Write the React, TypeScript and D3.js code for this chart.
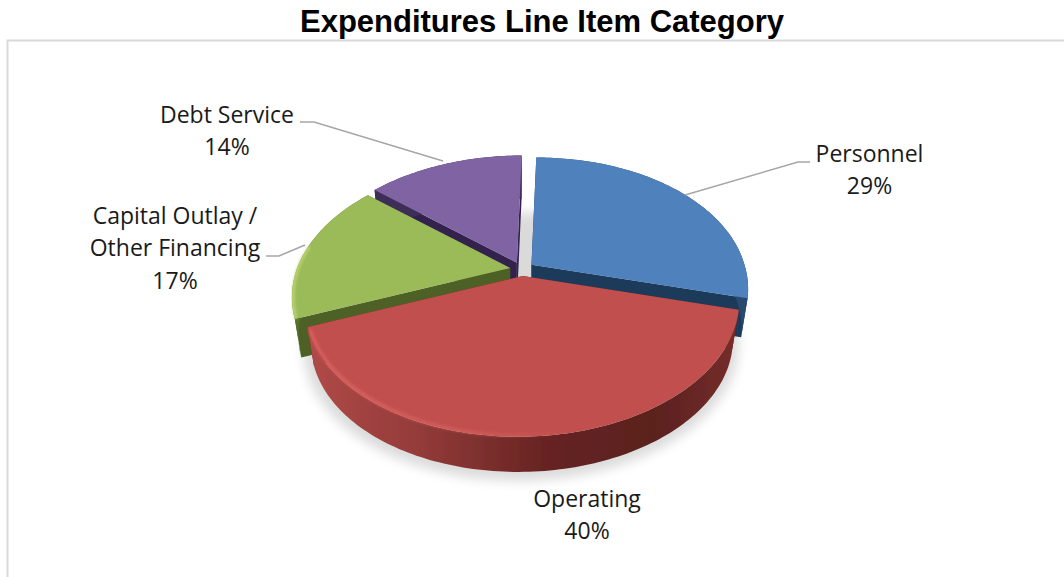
import React from "react";
import * as d3 from "d3";

const categories = ["Personnel", "Operating", "Capital Outlay / Other Financing", "Debt Service"];
const shares = [29, 40, 17, 14];
const topColors = ["#4f81bd", "#c0504d", "#9bbb59", "#8064a2"];
const cutColors = ["#1c3a5a", "#5e2220", "#4e6128", "#33244d"];
const wallColors = ["#2a4a70", "url(#redWall)", "#56702a", "#3c2d58"];
const labelLines = [["Personnel", "29%"], ["Operating", "40%"], ["Capital Outlay /", "Other Financing", "17%"], ["Debt Service", "14%"]];
const labelAnchors = [[869.5, 162], [587, 507], [175, 224], [227, 123]];
const leaders = [
  [[685, 195], [798, 162], [810, 162]],
  [],
  [[305, 245], [279, 256], [266, 256]],
  [[443, 161], [314, 122], [300, 122]],
];
const paintOrder = [3, 0, 2, 1];

// Tilted-disc projection of the pie, with perspective and a lean that differs by half.
const cx = 522, cy = 269, rx = 213, ry = 128.6, persp = 0.2, leanFar = 0.045, leanNear = 0.03;
const burstX = 12, burstY = 7, depth = 40, taper = 0.97;

type P = [number, number];
function onDisc(u: number, v: number): P {
  const s = 1 / (1 + persp * v);
  const y = -ry * v * s;
  return [rx * u * s - y * (y < 0 ? leanFar : leanNear), y];
}
function topPoint(a: number, r: number, mid: number): P {
  const [ox, oy] = [burstX * Math.sin(mid), -burstY * Math.cos(mid)];
  const [x, y] = onDisc(r * Math.sin(a), r * Math.cos(a));
  return [cx + ox + x, cy + oy + y];
}
function lowPoint(a: number, r: number, mid: number): P {
  const [ox, oy] = [burstX * Math.sin(mid), -burstY * Math.cos(mid)];
  const [x, y] = onDisc(r * Math.sin(a), r * Math.cos(a));
  return [cx + ox + x * taper, cy + oy + y * taper + depth];
}
const path = d3.line().curve(d3.curveLinear);

function angleSteps(a0: number, a1: number): number[] {
  const n = Math.max(2, Math.ceil((a1 - a0) / 0.02));
  return d3.range(n + 1).map((i) => a0 + ((a1 - a0) * i) / n);
}

export default function App() {
  const arcs = d3.pie<number>().sort(null)(shares);
  const shadowRing = angleSteps(0, Math.PI * 2).map((a) => lowPoint(a, 1.03, Math.PI) as P);
  const redArc = arcs[1];
  const redMid = (redArc.startAngle + redArc.endAngle) / 2;
  const greenArc = arcs[2];
  const greenMid = (greenArc.startAngle + greenArc.endAngle) / 2;

  return (
    <svg
      width={1064}
      height={577}
      style={{ position: "fixed", left: 0, top: 0, background: "#fff" }}
      fontFamily="'Open Sans', sans-serif"
    >
      <defs>
        <linearGradient id="redWall" gradientUnits="userSpaceOnUse" x1={305} x2={740} y1={0} y2={0}>
          <stop offset="0" stopColor="#b04a48" />
          <stop offset="0.25" stopColor="#953c3a" />
          <stop offset="0.55" stopColor="#672422" />
          <stop offset="0.8" stopColor="#5a201e" />
          <stop offset="1" stopColor="#772e2c" />
        </linearGradient>
        <linearGradient id="redGlint" gradientUnits="userSpaceOnUse" x1={310} x2={570} y1={0} y2={0}>
          <stop offset="0" stopColor="#e86a68" stopOpacity="0.75" />
          <stop offset="0.6" stopColor="#e86a68" stopOpacity="0.5" />
          <stop offset="1" stopColor="#e86a68" stopOpacity="0" />
        </linearGradient>
        <filter id="soft" x="-20%" y="-20%" width="140%" height="140%">
          <feGaussianBlur stdDeviation="6" />
        </filter>
        <filter id="edge" x="-10%" y="-10%" width="120%" height="120%">
          <feGaussianBlur stdDeviation="1.4" />
        </filter>
        <filter id="fine" x="-5%" y="-5%" width="110%" height="110%">
          <feGaussianBlur stdDeviation="0.5" />
        </filter>
      </defs>

      {/* chart frame: only its top and left borders show */}
      <path d="M7.5 577V40.5H1064" fill="none" stroke="#d9d9d9" strokeWidth={2} />

      <text x={542} y={32} textAnchor="middle" fontFamily="'Liberation Sans', Arial, sans-serif" fontWeight={700} fontSize={31} fill="#000">
        Expenditures Line Item Category
      </text>

      {/* soft ground shadow */}
      <path d={path(shadowRing) + "Z"} fill="#000" opacity={0.14} filter="url(#soft)" transform="translate(0 3)" />

      <g filter="url(#fine)">
        {paintOrder.map((i) => {
          const d = arcs[i];
          const mid = (d.startAngle + d.endAngle) / 2;
          const steps = angleSteps(d.startAngle, d.endAngle);
          const rimTop = steps.map((a) => topPoint(a, 1, mid));
          const rimLow = steps.map((a) => lowPoint(a, 1, mid));
          const apex = topPoint(0, 0, mid);
          const apexLow = lowPoint(0, 0, mid);
          const wall = [...rimTop, ...rimLow.slice().reverse()];
          const cutA = [apex, rimTop[0], rimLow[0], apexLow];
          const last = rimTop.length - 1;
          const cutB = [apex, rimTop[last], rimLow[last], apexLow];
          return (
            <g key={categories[i]}>
              <path d={path(cutA) + "Z"} fill={cutColors[i]} />
              <path d={path(cutB) + "Z"} fill={cutColors[i]} />
              <path d={path(wall) + "Z"} fill={wallColors[i]} />
              <path d={path([apex, ...rimTop]) + "Z"} fill={topColors[i]} />
            </g>
          );
        })}
      </g>

      {/* bevel glints along the near rims */}
      <path
        d={path(angleSteps(redArc.startAngle + 1.1, redArc.endAngle - 0.02).map((a) => topPoint(a, 0.993, redMid))) as string}
        fill="none"
        stroke="url(#redGlint)"
        strokeWidth={3}
        filter="url(#edge)"
      />
      <path
        d={path(angleSteps(greenArc.startAngle, greenArc.startAngle + 0.55).map((a) => topPoint(a, 0.995, greenMid))) as string}
        fill="none"
        stroke="#c8e080"
        strokeWidth={2}
        filter="url(#edge)"
      />

      {leaders.map((pts, i) =>
        pts.length ? <path key={i} d={path(pts as P[]) as string} fill="none" stroke="#a6a6a6" strokeWidth={1.5} /> : null
      )}

      {labelLines.map((lines, i) => (
        <text key={i} textAnchor="middle" fontSize={23} fill="#1a1a1a" x={labelAnchors[i][0]} y={labelAnchors[i][1]}>
          {lines.map((t, j) => (
            <tspan key={j} x={labelAnchors[i][0]} y={labelAnchors[i][1] + j * 32.3}>
              {t}
            </tspan>
          ))}
        </text>
      ))}
    </svg>
  );
}
